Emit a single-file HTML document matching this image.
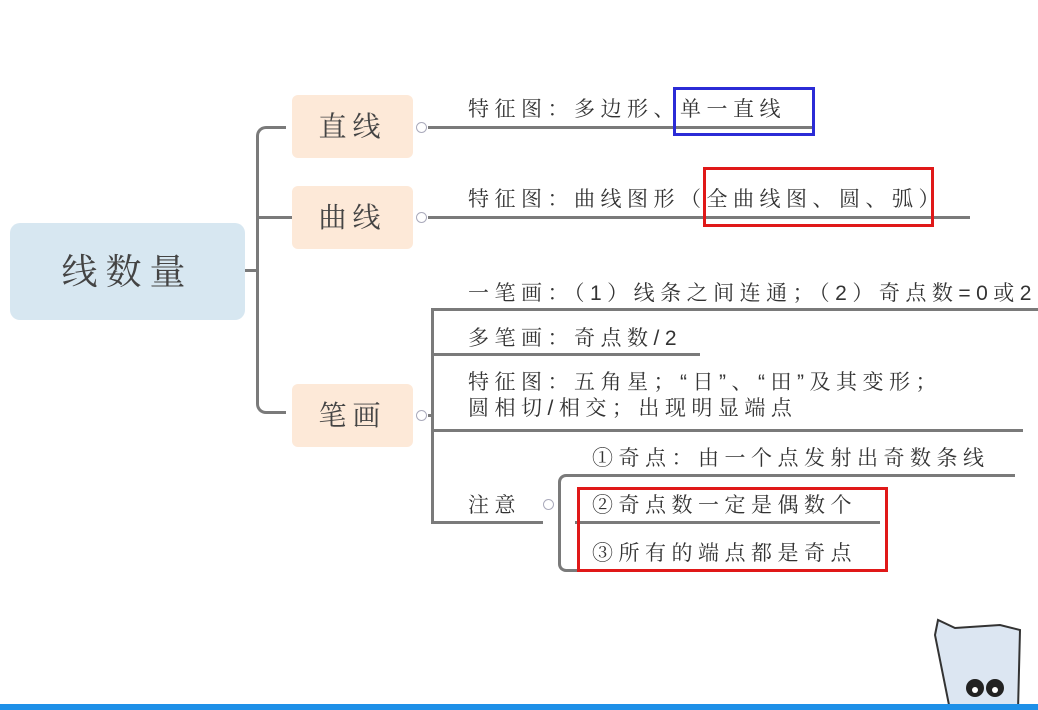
<!DOCTYPE html>
<html><head><meta charset="utf-8"><style>
body{margin:0;width:1038px;height:710px;background:#fff;position:relative;overflow:hidden;font-family:"Liberation Sans","Noto Serif CJK SC","Noto Sans CJK SC",serif;color:#333}
.a{position:absolute}
.l{position:absolute;background:#7a7a7a}
.t{position:absolute;font-size:21px;white-space:nowrap;letter-spacing:5.5px}
.b{position:absolute;background:#fde9d8;border-radius:6px;font-size:28px;text-align:center;letter-spacing:6px;color:#444}
.c{position:absolute;width:9px;height:9px;border:1px solid #aab;border-radius:50%;background:#fff}
</style></head><body>
<div class="a" style="left:10px;top:223px;width:235px;height:97px;background:#d7e7f1;border-radius:10px;font-size:36px;text-align:center;line-height:97px;letter-spacing:8px;color:#444">线数量</div>
<div class="l" style="left:245px;top:269px;width:14px;height:3px"></div>
<div class="a" style="left:256px;top:126px;width:30px;height:288px;border:3px solid #7a7a7a;border-right:none;border-radius:10px 0 0 10px;box-sizing:border-box"></div>
<div class="l" style="left:259px;top:216px;width:33px;height:3px"></div>
<div class="b" style="left:292px;top:95px;width:121px;height:63px;line-height:63px">直线</div>
<div class="b" style="left:292px;top:186px;width:121px;height:63px;line-height:63px">曲线</div>
<div class="b" style="left:292px;top:384px;width:121px;height:63px;line-height:63px">笔画</div>
<div class="c" style="left:416px;top:122px"></div>
<div class="c" style="left:416px;top:212px"></div>
<div class="c" style="left:416px;top:410px"></div>
<div class="l" style="left:428px;top:126px;width:387px;height:3px"></div>
<div class="t" style="left:468px;top:93px">特征图：多边形、单一直线</div>
<div class="l" style="left:428px;top:216px;width:542px;height:3px"></div>
<div class="t" style="left:468px;top:183px">特征图：曲线图形（全曲线图、圆、弧）</div>
<div class="l" style="left:428px;top:414px;width:6px;height:3px"></div>
<div class="l" style="left:431px;top:309px;width:3px;height:215px"></div>
<div class="l" style="left:431px;top:308px;width:607px;height:3px"></div>
<div class="t" style="left:468px;top:277px">一笔画：（1）线条之间连通；（2）奇点数=0或2</div>
<div class="l" style="left:431px;top:353px;width:269px;height:3px"></div>
<div class="t" style="left:468px;top:322px">多笔画：奇点数/2</div>
<div class="l" style="left:431px;top:429px;width:592px;height:3px"></div>
<div class="t" style="left:468px;top:370px;line-height:26px">特征图：五角星；“日”、“田”及其变形；<br>圆相切/相交；出现明显端点</div>
<div class="l" style="left:431px;top:521px;width:112px;height:3px"></div>
<div class="t" style="left:468px;top:489px">注意</div>
<div class="c" style="left:543px;top:499px"></div>
<div class="a" style="left:558px;top:474px;width:20px;height:98px;border:3px solid #7a7a7a;border-right:none;border-radius:8px 0 0 8px;box-sizing:border-box"></div>
<div class="l" style="left:575px;top:474px;width:440px;height:3px"></div>
<div class="l" style="left:575px;top:521px;width:305px;height:3px"></div>
<div class="t" style="left:592px;top:442px">①奇点：由一个点发射出奇数条线</div>
<div class="t" style="left:592px;top:489px">②奇点数一定是偶数个</div>
<div class="t" style="left:592px;top:537px">③所有的端点都是奇点</div>
<div class="a" style="left:673px;top:87px;width:142px;height:49px;border:3px solid #2b2bd6;box-sizing:border-box"></div>
<div class="a" style="left:703px;top:167px;width:231px;height:60px;border:3px solid #e01818;box-sizing:border-box"></div>
<div class="a" style="left:577px;top:487px;width:311px;height:85px;border:3px solid #e01818;box-sizing:border-box"></div>
<svg class="a" style="left:930px;top:610px" width="108" height="100"><path d="M5 25 L8 10 L25 18 L70 15 L90 20 L88 100 L20 100 Z" fill="#dce6f2" stroke="#333" stroke-width="2"/><circle cx="45" cy="78" r="9" fill="#222"/><circle cx="65" cy="78" r="9" fill="#222"/><circle cx="45" cy="80" r="3" fill="#fff"/><circle cx="65" cy="80" r="3" fill="#fff"/></svg>
<div class="a" style="left:0;top:704px;width:1038px;height:6px;background:#1e90e8"></div>
</body></html>
